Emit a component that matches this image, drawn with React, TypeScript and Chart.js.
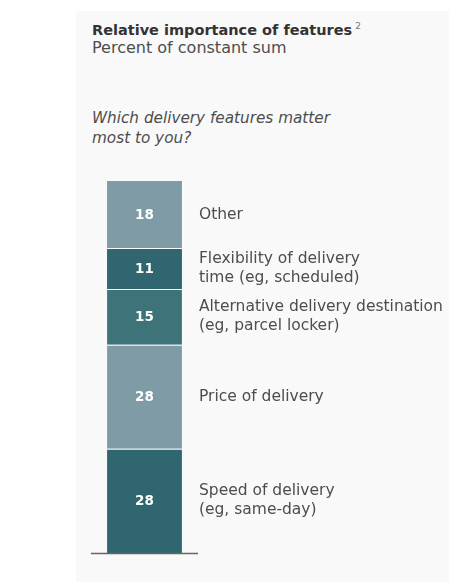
import React, { useEffect, useRef } from 'react';
import Chart, { Plugin } from 'chart.js/auto';

// bottom to top, as stacked in the bar
const features: string[][] = [
    ['Speed of delivery', '(eg, same-day)'],
    ['Price of delivery'],
    ['Alternative delivery destination', '(eg, parcel locker)'],
    ['Flexibility of delivery', 'time (eg, scheduled)'],
    ['Other'],
];
const shares = [28, 28, 15, 11, 18];
const segmentColors = ['#30666f', '#7e9ba6', '#3e7479', '#30666f', '#7e9ba6'];

const FONT = '"DejaVu Sans", "Liberation Sans", Arial, sans-serif';

// value inside each segment, feature name to the right, baseline under the bar
const segmentLabels: Plugin<'bar'> = {
    id: 'segmentLabels',
    afterDatasetsDraw(chart) {
        const { ctx, chartArea } = chart;
        ctx.save();
        chart.data.datasets.forEach((ds, i) => {
            const bar: any = chart.getDatasetMeta(i).data[0];
            if (!bar) return;
            const cy = (bar.y + bar.base) / 2;
            ctx.fillStyle = '#ffffff';
            ctx.font = `bold 13.5px ${FONT}`;
            ctx.textAlign = 'center';
            ctx.textBaseline = 'middle';
            ctx.fillText(String(ds.data[0]), bar.x, cy + 1);

            const lines = features[i];
            const lh = 19;
            ctx.fillStyle = '#4d4d4d';
            ctx.font = `15.5px ${FONT}`;
            ctx.textAlign = 'left';
            lines.forEach((line, j) => {
                const y = cy + (j - (lines.length - 1) / 2) * lh;
                ctx.fillText(line, bar.x + bar.width / 2 + 17, y);
            });
        });
        ctx.strokeStyle = '#666666';
        ctx.lineWidth = 1.5;
        ctx.beginPath();
        ctx.moveTo(chartArea.left, chartArea.bottom + 0.5);
        ctx.lineTo(chartArea.right, chartArea.bottom + 0.5);
        ctx.stroke();
        ctx.restore();
    },
};

const DeliveryChart: React.FC = () => {
    const chartRef = useRef<HTMLCanvasElement>(null);
    const chartInstance = useRef<Chart | null>(null);

    useEffect(() => {
        if (!chartRef.current) return;
        if (chartInstance.current) chartInstance.current.destroy();

        chartInstance.current = new Chart(chartRef.current, {
            type: 'bar',
            data: {
                labels: [''],
                datasets: shares.map((v, i) => ({
                    label: features[i].join(' '),
                    data: [v],
                    backgroundColor: segmentColors[i],
                    borderColor: 'rgba(255, 255, 255, 0.3)',
                    borderWidth: i === shares.length - 1 ? 0 : { top: 1, bottom: 0, left: 0, right: 0 },
                    borderSkipped: false,
                    barPercentage: 0.7,
                    categoryPercentage: 1,
                })),
            },
            options: {
                animation: false,
                responsive: false,
                maintainAspectRatio: false,
                layout: { padding: { left: 15, right: 251, top: 21, bottom: 29 } },
                scales: {
                    x: { stacked: true, display: false },
                    y: { stacked: true, display: false, min: 0, max: 100 },
                },
                plugins: {
                    legend: { display: false },
                    title: { display: false },
                    tooltip: { enabled: false },
                },
            },
            plugins: [segmentLabels],
        });

        return () => {
            if (chartInstance.current) {
                chartInstance.current.destroy();
                chartInstance.current = null;
            }
        };
    }, []);

    return <canvas ref={chartRef} width={373} height={422} style={{ position: 'absolute', left: 76, top: 160 }} />;
};

const App: React.FC = () => {
    const text: React.CSSProperties = { position: 'absolute', left: 92, margin: 0, fontFamily: FONT, whiteSpace: 'nowrap' };
    return (
        <div style={{ position: 'absolute', left: 0, top: 0, width: 474, height: 582, background: '#ffffff', overflow: 'hidden' }}>
            <div style={{ position: 'absolute', left: 76, top: 11, width: 373, height: 571, background: '#f9f9f9' }} />
            <div style={{ ...text, top: 17, fontSize: 14.5, fontWeight: 'bold', color: '#333333', lineHeight: '18px' }}>
                Relative importance of features<sup style={{ fontSize: 9, fontWeight: 'normal', color: '#777', verticalAlign: 6, marginLeft: 3 }}>2</sup>
            </div>
            <div style={{ ...text, top: 38, fontSize: 16, color: '#4d4d4d', lineHeight: '20px' }}>Percent of constant sum</div>
            <div style={{ ...text, top: 108, fontSize: 15.25, fontStyle: 'italic', color: '#4d4d4d', lineHeight: '20px' }}>
                Which delivery features matter<br />most to you?
            </div>
            <DeliveryChart />
        </div>
    );
};

export default App;
